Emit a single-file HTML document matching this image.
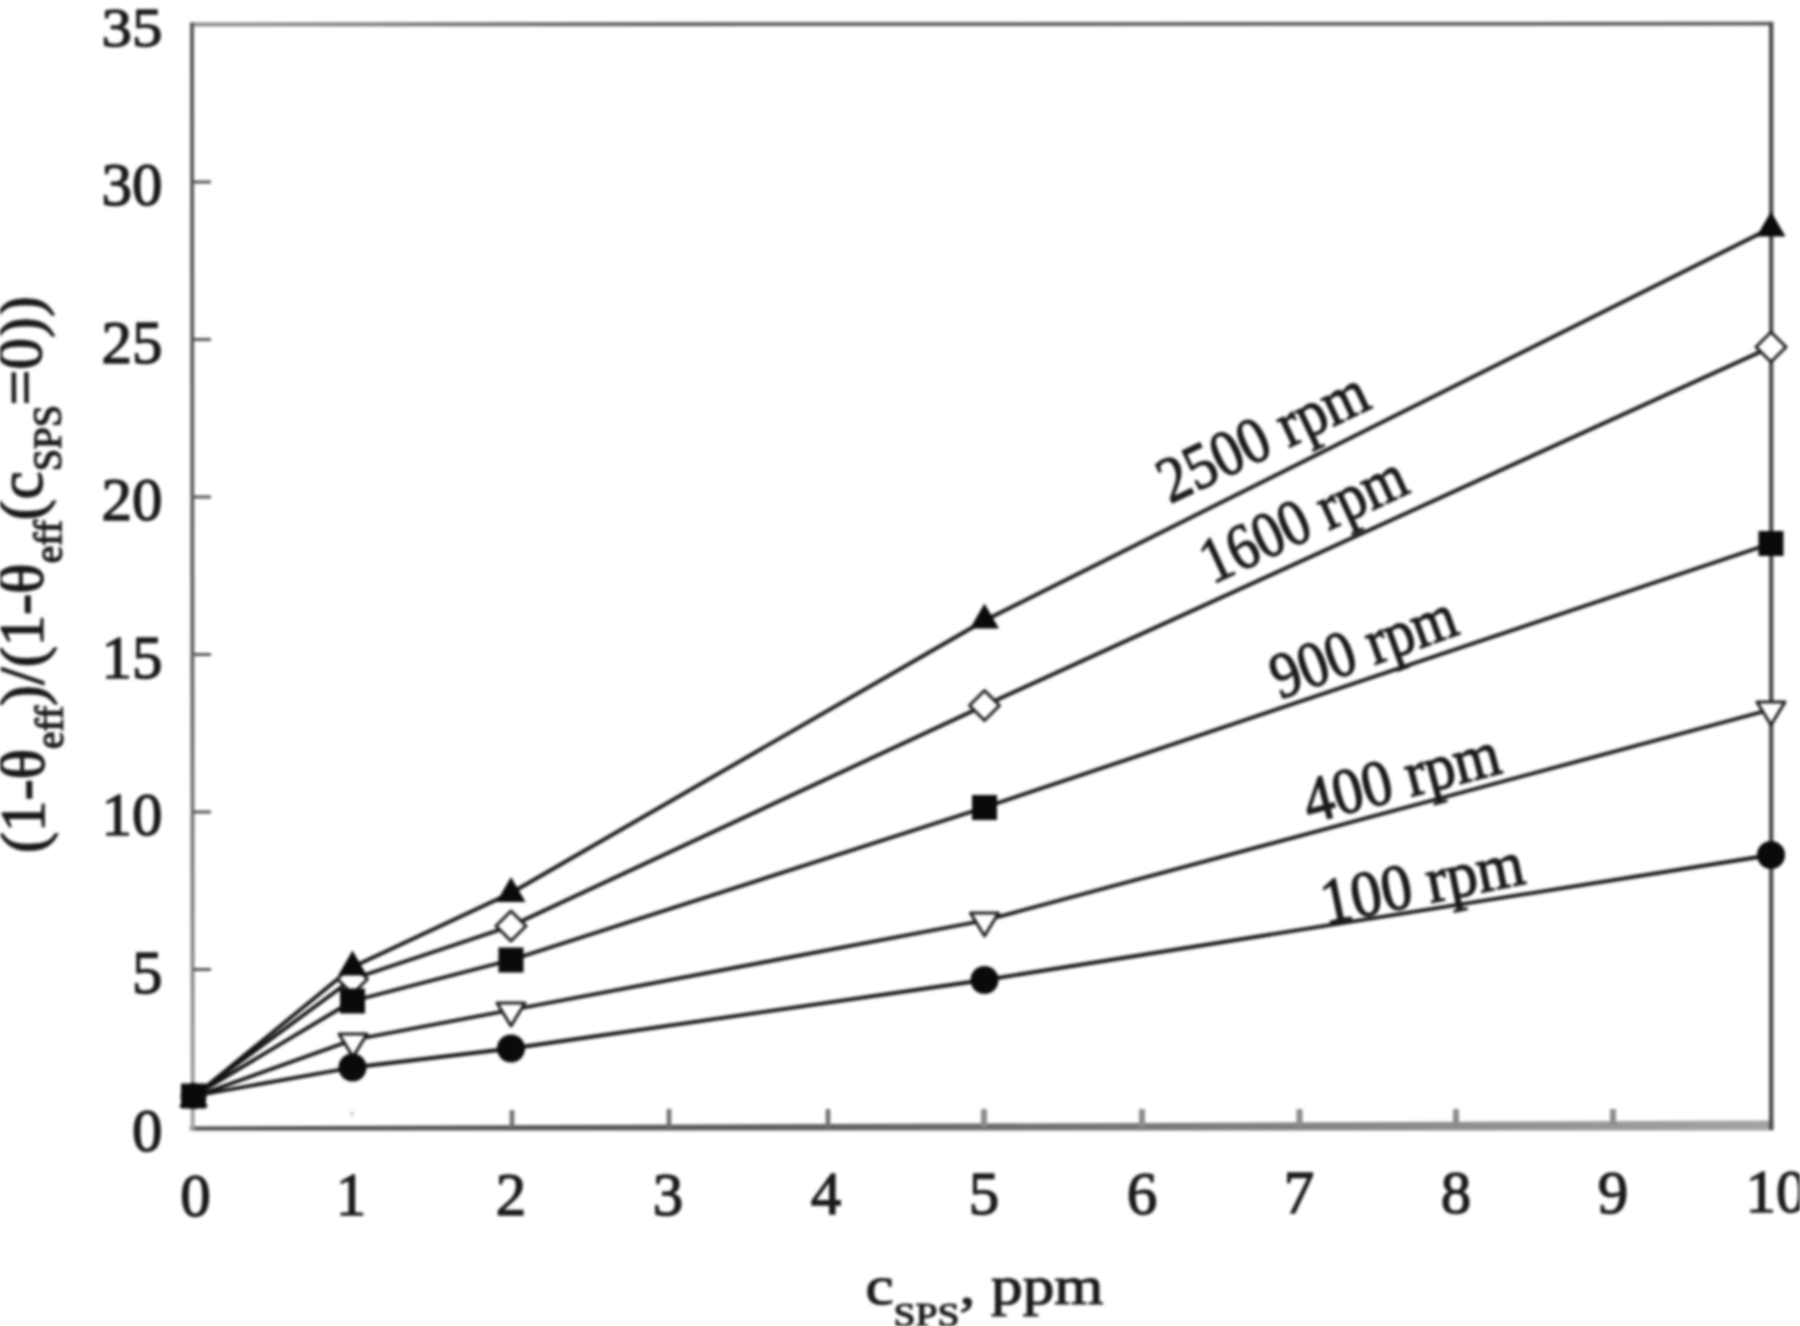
<!DOCTYPE html>
<html lang="en">
<head>
<meta charset="utf-8">
<title>Chart</title>
<style>
  html, body { margin: 0; padding: 0; background: #ffffff; }
  body { width: 1800px; height: 1326px; overflow: hidden; }
  svg { display: block; filter: blur(1.5px); }
  text { font-family: "Liberation Serif", serif; fill: #1a1a1a; stroke: #1a1a1a; stroke-width: 1.4px; }
  .tick { font-size: 61px; }
  .xt { font-size: 61px; }
  .lbl { font-size: 63.2px; }
  .slbl { font-size: 65px; }
  .ax { stroke: #555555; stroke-width: 3; fill: none; }
  .tk { stroke: #555555; stroke-width: 3; fill: none; }
  .ser { stroke: #141414; stroke-width: 3.8; fill: none; stroke-linejoin: round; }
  .mk { fill: #0a0a0a; stroke: none; }
  .mo { fill: #ffffff; stroke: #1e1e1e; stroke-width: 3; stroke-linejoin: round; }
</style>
</head>
<body>
<svg width="1800" height="1326" viewBox="0 0 1800 1326">
  <rect x="0" y="0" width="1800" height="1326" fill="#ffffff"/>

  <!-- frame -->
  <g id="frame">
    <defs>
      <linearGradient id="gb" x1="0" y1="0" x2="1" y2="0">
        <stop offset="0" stop-color="#4c4c4c"/>
        <stop offset="0.35" stop-color="#5c5c5c"/>
        <stop offset="1" stop-color="#a4a4a4"/>
      </linearGradient>
      <linearGradient id="gt" x1="0" y1="0" x2="1" y2="0">
        <stop offset="0" stop-color="#8e8e8e"/>
        <stop offset="0.3" stop-color="#5a5a5a"/>
        <stop offset="1" stop-color="#5a5a5a"/>
      </linearGradient>
      <linearGradient id="gl" x1="0" y1="0" x2="0" y2="1">
        <stop offset="0" stop-color="#565656"/>
        <stop offset="0.55" stop-color="#606060"/>
        <stop offset="0.8" stop-color="#808080"/>
        <stop offset="1" stop-color="#a0a0a0"/>
      </linearGradient>
    </defs>
    <polygon points="190,1126.5 1773.5,1120.5 1773.5,1130.5 190,1130.5" fill="url(#gb)"/>
    <polygon points="190,22.5 1773,21.8 1773,25.6 190,26.4" fill="url(#gt)"/>
    <polygon points="190,22.5 194,22.5 194.7,1130.5 190.7,1130.5" fill="url(#gl)"/>
    <line x1="1771.2" y1="22" x2="1771.2" y2="1130" stroke="#4a4a4a" stroke-width="4.4"/>
  </g>

  <!-- ticks -->
  <g id="ticks">
    <path class="tk" d="M193 969.5h18 M193 812h18 M193 654.5h18 M193 497h18 M193 339.5h18 M193 182h18"/>
    <path class="tk" d="M352 1116v-4" stroke-opacity="0.35"/>
    <path d="M512 1128v-18 M669 1128v-19 M828 1128v-19" stroke="#707070" stroke-width="4.6" fill="none"/>
    <path d="M984 1127v-18 M1142 1127v-18 M1299.5 1126v-17 M1456 1126v-17 M1613 1125v-16" stroke="#8c8c8c" stroke-width="6" fill="none"/>
  </g>

  <!-- y tick labels -->
  <g id="ylabels" class="tick" text-anchor="end">
    <text transform="translate(162.5 46) scale(1 0.9)">35</text>
    <text x="162.5" y="205">30</text>
    <text x="162.5" y="363">25</text>
    <text x="162.5" y="520">20</text>
    <text x="162.5" y="678">15</text>
    <text x="162.5" y="835">10</text>
    <text x="162.5" y="993">5</text>
    <text x="162.5" y="1151">0</text>
  </g>

  <!-- x tick labels -->
  <g id="xlabels" class="tick xt" text-anchor="middle">
    <text x="195.5" y="1215.5">0</text>
    <text x="351" y="1215.2">1</text>
    <text x="511" y="1214.9">2</text>
    <text x="668" y="1214.5">3</text>
    <text x="826" y="1214.2">4</text>
    <text x="984" y="1213.9">5</text>
    <text x="1142" y="1213.6">6</text>
    <text x="1299" y="1213.3">7</text>
    <text x="1456" y="1212.9">8</text>
    <text x="1613" y="1212.6">9</text>
    <text x="1776" y="1212.3">10</text>
  </g>

  <!-- axis titles -->
  <g id="titles">
    <text class="lbl" transform="translate(865.5 1304) scale(1 0.87)">c<tspan font-size="39.5" dy="25">SPS</tspan><tspan dy="-25">, ppm</tspan></text>
    <text class="lbl" transform="translate(44.5 853) rotate(-90.4)">(1-θ<tspan font-size="39.5" dy="19">eff</tspan><tspan dy="-19">)/(1-θ</tspan><tspan font-size="39.5" dy="19">eff</tspan><tspan dy="-19">(c</tspan><tspan font-size="39.5" dy="19">SPS</tspan><tspan dy="-19">=0))</tspan></text>
  </g>

  <!-- series lines -->
  <g id="series">
    <polyline class="ser" points="193.5,1097 352.5,967 511,893 984.5,620.5 1771,228"/>
    <polyline class="ser" points="193.5,1096 352.5,979 511,926 984.5,705.5 1771,347"/>
    <polyline class="ser" points="193.5,1096 352.5,1001 511,960 984.5,807.5 1771,543.5"/>
    <polyline class="ser" points="193.5,1097 352.5,1040 511,1010 984.5,920.5 1771,709.5"/>
    <polyline class="ser" points="193.5,1096 352.5,1067.5 511,1048.5 984.5,980 1771,855"/>
  </g>

  <!-- 400 rpm open down triangles -->
  <g id="m400" class="mo">
    <path d="M339 1034h28l-14 23z"/>
    <path d="M497 1003h28l-14 23z"/>
    <path d="M970.5 913h28l-14 23z"/>
    <path d="M1757 702h28l-14 23z"/>
  </g>
  <!-- 1600 rpm open diamonds -->
  <g id="m1600" class="mo">
    <path d="M352.5 964l15 15l-15 15l-15 -15z"/>
    <path d="M511 911l15 15l-15 15l-15 -15z"/>
    <path d="M984.5 690.5l15 15l-15 15l-15 -15z"/>
    <path d="M1771 332l15 15l-15 15l-15 -15z"/>
  </g>
  <!-- markers: 100 rpm filled circles -->
  <g id="m100" class="mk">
    <circle cx="193.5" cy="1096" r="13"/>
    <circle cx="352.5" cy="1067.5" r="14"/>
    <circle cx="511" cy="1048.5" r="14"/>
    <circle cx="984.5" cy="980" r="14"/>
    <circle cx="1771" cy="855" r="14"/>
  </g>
  <!-- 900 rpm filled squares -->
  <g id="m900" class="mk">
    <rect x="181" y="1083.5" width="25" height="25"/>
    <rect x="340" y="988.5" width="25" height="25"/>
    <rect x="498.5" y="947.5" width="25" height="25"/>
    <rect x="972" y="795" width="25" height="25"/>
    <rect x="1758.5" y="531" width="25" height="25"/>
  </g>
  <!-- 2500 rpm filled up triangles -->
  <g id="m2500" class="mk">
    <path d="M193.5 1082l14.5 25h-29z"/>
    <path d="M352.5 950.5l14.5 25h-29z"/>
    <path d="M511 877l14.5 25h-29z"/>
    <path d="M984.5 603.5l14.5 25h-29z"/>
    <path d="M1771 211.5l14.5 25h-29z"/>
  </g>

  <!-- series labels -->
  <g id="slabels" class="slbl">
    <text transform="translate(1170 504) rotate(-25.4) scale(0.898 1)">2500 rpm</text>
    <text transform="translate(1212.3 584.4) rotate(-24.9) scale(0.877 1)">1600 rpm</text>
    <text transform="translate(1279.8 699.5) rotate(-20) scale(0.884 1)">900 rpm</text>
    <text transform="translate(1309.6 823.4) rotate(-14.7) scale(0.92 1)">400 rpm</text>
    <text transform="translate(1325.3 924.3) rotate(-11.5) scale(0.944 1)">100 rpm</text>
  </g>
</svg>
</body>
</html>
